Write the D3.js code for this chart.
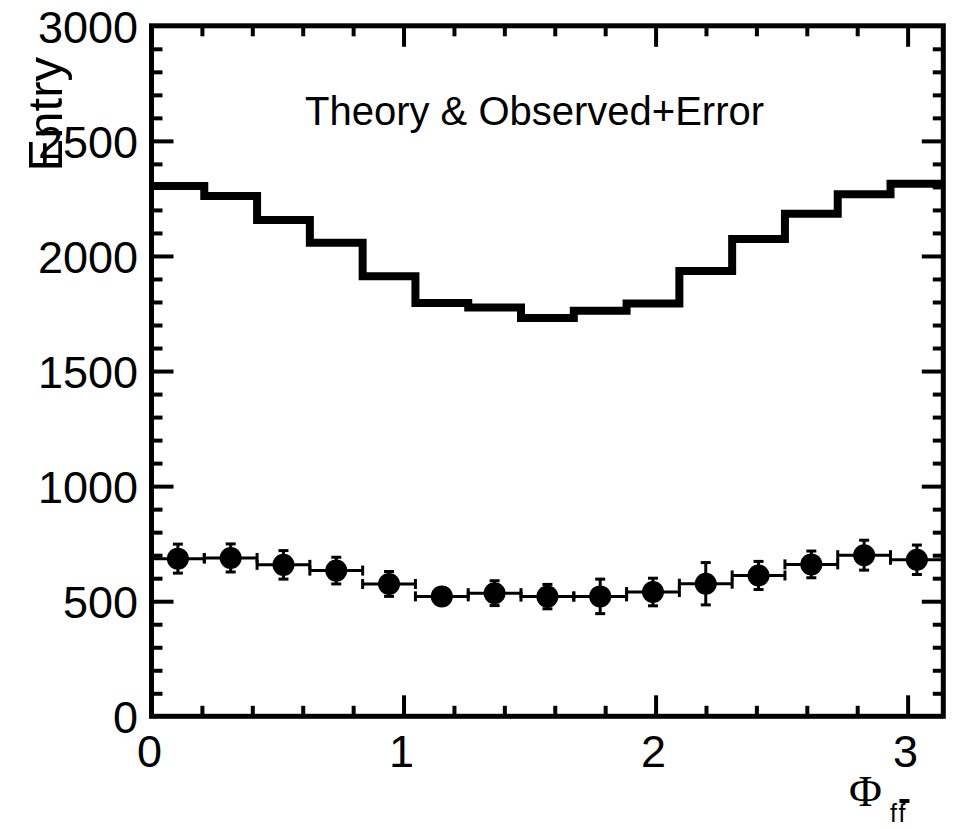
<!DOCTYPE html>
<html lang="en">
<head>
    <meta charset="UTF-8">
    <title>Theory & Observed+Error</title>
    <script src="https://d3js.org/d3.v7.min.js"></script>
    <style>
        body {
            margin: 0;
            background: #fff;
        }
        svg text {
            font-family: 'Liberation Sans', Arial, sans-serif;
            fill: #000;
        }
        .tick-label {
            font-size: 45px;
        }
        .ticks line {
            stroke: #000;
            stroke-width: 4;
        }
    </style>
</head>
<body>
    <svg width="962" height="829"></svg>
    <script>
        // bins in phi, 0..pi, 15 bins
        const nBins = 15;
        const theory = [2304, 2260, 2156, 2057, 1912, 1796, 1776, 1730, 1762, 1793, 1935, 2074, 2183, 2268, 2314];
        const observed = [685, 688, 658, 633, 575, 521, 535, 520, 521, 540, 576, 612, 660, 700, 680];
        const obsError = [63, 61, 62, 58, 54, 35, 54, 53, 75, 60, 92, 61, 58, 65, 64];
        const xTickLabels = [0, 1, 2, 3];
        const yTickLabels = [0, 500, 1000, 1500, 2000, 2500, 3000];

        const svg = d3.select("svg");

        const x = d3.scaleLinear().domain([0, Math.PI]).range([151.5, 943.3]);
        const y = d3.scaleLinear().domain([0, 3000]).range([716.3, 25.8]);

        const binW = Math.PI / nBins;
        const bins = d3.range(nBins).map(i => ({
            lo: i * binW,
            hi: (i + 1) * binW,
            mid: (i + 0.5) * binW,
            th: theory[i],
            obs: observed[i],
            err: obsError[i]
        }));

        // ticks (all drawn inward, on all four sides)
        const minorX = d3.range(1, 16).map(d => d * 0.2).filter(d => Math.abs(d - Math.round(d)) > 1e-6);
        const minorY = d3.range(1, 30).map(d => d * 100).filter(d => d % 500 !== 0);
        const majorY = yTickLabels.slice(1, -1);
        const majorX = xTickLabels.slice(1);

        function addAxis(gen, tx, ty) {
            const g = svg.append("g")
                .attr("class", "ticks")
                .attr("transform", `translate(${tx},${ty})`)
                .call(gen);
            g.select(".domain").remove();
            g.selectAll("text").remove();
        }
        const y0 = y(0), y1 = y(3000), x0 = x(0), x1 = x(Math.PI);
        addAxis(d3.axisBottom(x).tickValues(minorX).tickSize(-10.5).tickFormat(""), 0, y0);
        addAxis(d3.axisBottom(x).tickValues(majorX).tickSize(-21).tickFormat(""), 0, y0);
        addAxis(d3.axisTop(x).tickValues(minorX).tickSize(-10.5).tickFormat(""), 0, y1);
        addAxis(d3.axisTop(x).tickValues(majorX).tickSize(-21).tickFormat(""), 0, y1);
        addAxis(d3.axisLeft(y).tickValues(minorY).tickSize(-11).tickFormat(""), x0, 0);
        addAxis(d3.axisLeft(y).tickValues(majorY).tickSize(-22).tickFormat(""), x0, 0);
        addAxis(d3.axisRight(y).tickValues(minorY).tickSize(-10.5).tickFormat(""), x1, 0);
        addAxis(d3.axisRight(y).tickValues(majorY).tickSize(-21.5).tickFormat(""), x1, 0);

        // theory histogram
        const stepPts = bins.map(b => [b.lo, b.th]).concat([[Math.PI, theory[nBins - 1]]]);
        svg.append("path")
            .datum(stepPts)
            .attr("fill", "none")
            .attr("stroke", "#000")
            .attr("stroke-width", 8)
            .attr("d", d3.line().x(d => x(d[0])).y(d => y(d[1])).curve(d3.curveStepAfter));

        // observed points with errors
        const r = 11, cap = 5;
        const pts = svg.append("g").attr("stroke", "#000").attr("stroke-width", 3);
        bins.forEach(b => {
            const cy = y(b.obs);
            // horizontal bar with end caps
            pts.append("line").attr("x1", x(b.lo)).attr("x2", x(b.hi)).attr("y1", cy).attr("y2", cy);
            pts.append("line").attr("x1", x(b.lo)).attr("x2", x(b.lo)).attr("y1", cy - cap).attr("y2", cy + cap);
            pts.append("line").attr("x1", x(b.hi)).attr("x2", x(b.hi)).attr("y1", cy - cap).attr("y2", cy + cap);
            // vertical error, only when it sticks out of the marker
            const eTop = y(b.obs + b.err), eBot = y(b.obs - b.err);
            if (cy - eTop > r) {
                pts.append("line").attr("x1", x(b.mid)).attr("x2", x(b.mid)).attr("y1", eTop).attr("y2", eBot);
                pts.append("line").attr("x1", x(b.mid) - cap).attr("x2", x(b.mid) + cap).attr("y1", eTop).attr("y2", eTop);
                pts.append("line").attr("x1", x(b.mid) - cap).attr("x2", x(b.mid) + cap).attr("y1", eBot).attr("y2", eBot);
            }
        });
        svg.append("g").selectAll("circle")
            .data(bins)
            .enter().append("circle")
            .attr("cx", d => x(d.mid))
            .attr("cy", d => y(d.obs))
            .attr("r", r)
            .attr("fill", "#000");

        // frame
        svg.append("rect")
            .attr("x", x0).attr("y", y1)
            .attr("width", x1 - x0).attr("height", y0 - y1)
            .attr("fill", "none")
            .attr("stroke", "#000")
            .attr("stroke-width", 5);

        // tick labels
        svg.selectAll(".xlab")
            .data(xTickLabels)
            .enter().append("text")
            .attr("class", "tick-label")
            .attr("text-anchor", "middle")
            .attr("x", d => x(d) - 2)
            .attr("y", 767)
            .text(d => d);

        svg.selectAll(".ylab")
            .data(yTickLabels)
            .enter().append("text")
            .attr("class", "tick-label")
            .attr("text-anchor", "end")
            .attr("x", 138)
            .attr("y", d => y(d) + 17)
            .text(d => d);

        // axis titles
        svg.append("text")
            .attr("text-anchor", "end")
            .attr("transform", "translate(62,57)rotate(-90)")
            .style("font-size", "49px")
            .text("Entry");

        svg.append("text")
            .attr("x", 849)
            .attr("y", 806)
            .style("font-family", "'Liberation Serif', 'DejaVu Serif', serif")
            .style("font-size", "45px")
            .text("Φ");
        const sub = svg.append("text")
            .attr("x", 890)
            .attr("y", 822)
            .style("font-size", "25px")
            .style("letter-spacing", "2px")
            .text("ff");
        // bar over the second f
        const ext = sub.node().getExtentOfChar(1);
        svg.append("line")
            .attr("x1", ext.x + 1).attr("x2", ext.x + ext.width + 2)
            .attr("y1", 801).attr("y2", 801)
            .attr("stroke", "#000")
            .attr("stroke-width", 4);

        // title
        svg.append("text")
            .attr("x", 305)
            .attr("y", 125)
            .style("font-size", "40px")
            .text("Theory & Observed+Error");
    </script>
</body>
</html>
